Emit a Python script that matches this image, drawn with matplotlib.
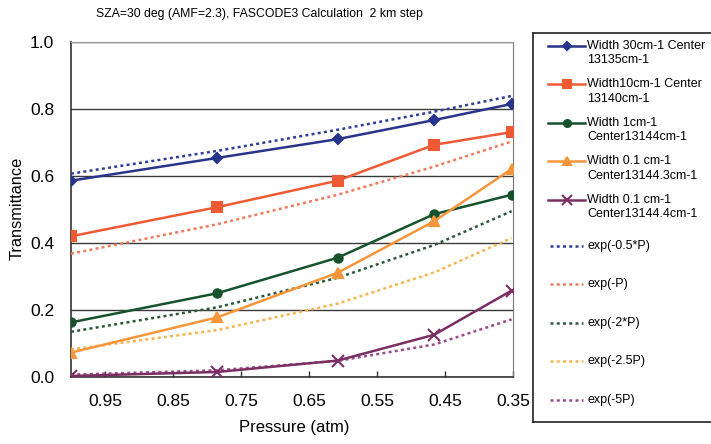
import matplotlib
matplotlib.use("Agg")
import matplotlib.pyplot as plt
from matplotlib import font_manager
from matplotlib.lines import Line2D

plt.rcParams['font.family'] = ['Liberation Sans', 'DejaVu Sans']

# pressure at 0, 2, 4, 6, 8 km
pressure = [1.0, 0.785, 0.608, 0.466, 0.352]

width30 = [0.586, 0.654, 0.710, 0.767, 0.815]
width10 = [0.420, 0.507, 0.586, 0.693, 0.731]
width1 = [0.163, 0.250, 0.356, 0.486, 0.544]
width01_3 = [0.073, 0.178, 0.311, 0.465, 0.621]
width01_4 = [0.003, 0.015, 0.049, 0.126, 0.258]

exp05 = [0.607, 0.675, 0.738, 0.792, 0.839]
exp1 = [0.368, 0.456, 0.544, 0.628, 0.703]
exp2 = [0.135, 0.208, 0.296, 0.394, 0.495]
exp25 = [0.082, 0.140, 0.219, 0.312, 0.415]
exp5 = [0.007, 0.020, 0.048, 0.097, 0.172]

x_ticks = [0.95, 0.85, 0.75, 0.65, 0.55, 0.45, 0.35]
y_ticks = [0.0, 0.2, 0.4, 0.6, 0.8, 1.0]

# narrow face for the title if it is installed
try:
    font_manager.findfont(font_manager.FontProperties(family='Liberation Sans Narrow'),
                          fallback_to_default=False)
    title_font = dict(family='Liberation Sans Narrow', fontsize=10.5)
except ValueError:
    title_font = dict(family='Liberation Sans', fontsize=8.8)

W, H = 711, 444
fig = plt.figure(figsize=(W / 100, H / 100), dpi=100)

def px_box(left, top, right, bottom):
    return [left / W, 1 - bottom / H, (right - left) / W, (bottom - top) / H]

ax = fig.add_axes(px_box(71, 42, 513, 377))

solid = [
    (width30, '#27348b', 'D', 5.5, 'Width 30cm-1 Center\n13135cm-1'),
    (width10, '#ef5a35', 's', 7, 'Width10cm-1 Center\n13140cm-1'),
    (width1, '#16532c', 'o', 6, 'Width 1cm-1\nCenter13144cm-1'),
    (width01_3, '#f7953a', '^', 7, 'Width 0.1 cm-1\nCenter13144.3cm-1'),
    (width01_4, '#7b2e63', 'x', 8, 'Width 0.1 cm-1\nCenter13144.4cm-1'),
]
dotted = [
    (exp05, '#2f3f99', 'exp(-0.5*P)'),
    (exp1, '#f07a5a', 'exp(-P)'),
    (exp2, '#2a5a3c', 'exp(-2*P)'),
    (exp25, '#f9b34e', 'exp(-2.5P)'),
    (exp5, '#9a4a86', 'exp(-5P)'),
]

for vals, col, lab in dotted:
    ax.plot(pressure, vals, color=col, lw=1.8, ls=(0, (1.2, 1.3)), zorder=3)
for vals, col, mk, ms, lab in solid:
    ax.plot(pressure, vals, color=col, lw=1.8, marker=mk, ms=ms,
            mew=1.5, zorder=4)

ax.set_xlim(1.0, 0.35)
ax.set_ylim(0, 1.0)
ax.set_xticks(x_ticks)
ax.set_xticklabels([f'{t:.2f}' for t in x_ticks])
ax.set_yticks(y_ticks)
ax.set_yticklabels([f'{t:.1f}' for t in y_ticks])
ax.tick_params(axis='x', direction='in', length=4, width=1, color='#333333',
               pad=12, labelsize=12.5)
ax.tick_params(axis='y', length=0, pad=12, labelsize=12.5)
ax.grid(axis='y', color='#3a3a3a', lw=1)
ax.set_axisbelow(True)
for side in ('left', 'bottom'):
    ax.spines[side].set_color('#333333')
    ax.spines[side].set_linewidth(1.2)
ax.spines['right'].set_color('#777777')
ax.spines['top'].set_color('#999999')
ax.spines['top'].set_linestyle((0, (2, 1)))

fig.text(259 / W, 1 - 14 / H, 'SZA=30 deg (AMF=2.3), FASCODE3 Calculation  2 km step',
         ha='center', va='center', **title_font)
fig.text(294 / W, 1 - 427 / H, 'Pressure (atm)', ha='center', va='center', fontsize=12)
fig.text(17 / W, 1 - 208 / H, 'Transmittance', ha='center', va='center',
         rotation=90, fontsize=11.8)

# legend panel, laid out in pixel units
lx0, ly0, lx1, ly1 = 533, 33, 725, 422
lax = fig.add_axes(px_box(lx0, ly0, lx1, ly1))
lax.set_xlim(lx0, lx1)
lax.set_ylim(ly1, ly0)
lax.set_xticks([])
lax.set_yticks([])
for s in lax.spines.values():
    s.set_color('#222222')
    s.set_linewidth(1.2)

row0, step = 53, 38.5
for i, (vals, col, mk, ms, lab) in enumerate(solid):
    yc = row0 + i * step
    ys = yc - 7
    lax.add_line(Line2D([548, 585], [ys, ys], color=col, lw=1.8))
    lax.add_line(Line2D([567], [ys], color=col, marker=mk, ms=ms - 1, mew=1.5))
    lax.text(587, yc, lab, ha='left', va='center', fontsize=9, linespacing=1.25)
for j, (vals, col, lab) in enumerate(dotted):
    yc = row0 + (len(solid) + j) * step
    lax.add_line(Line2D([550, 583], [yc, yc], color=col, lw=1.8, ls=(0, (1.2, 1.3))))
    lax.text(588, yc, lab, ha='left', va='center', fontsize=9)

fig.savefig('out.png', dpi=100)
